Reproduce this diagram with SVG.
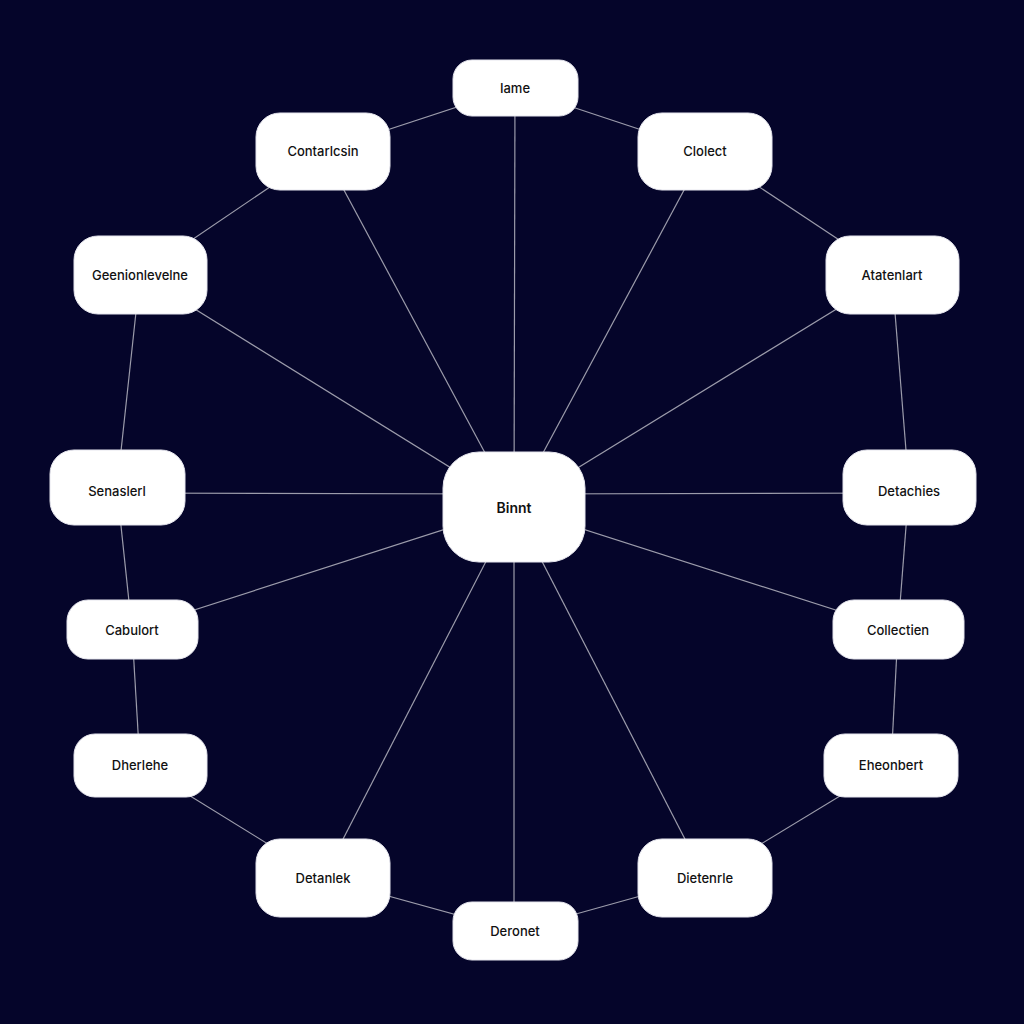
<svg xmlns="http://www.w3.org/2000/svg" width="1024" height="1024" viewBox="0 0 1024 1024">
<style>
.n rect{fill:#ffffff;stroke:#e6e6ee;stroke-width:1}
.n text{font-family:Inter,"Liberation Sans",sans-serif;font-size:13px;font-weight:500;fill:#111111;text-anchor:middle;dominant-baseline:central}
.c line{stroke:#9c9cab;stroke-width:1.2}
</style>
<rect width="1024" height="1024" fill="#05052a"/>
<g class="c">
<line x1="514" y1="507" x2="515" y2="88"/>
<line x1="514" y1="507" x2="323" y2="151"/>
<line x1="514" y1="507" x2="705" y2="151"/>
<line x1="514" y1="507" x2="140" y2="275"/>
<line x1="514" y1="507" x2="892" y2="275"/>
<line x1="514" y1="494" x2="117" y2="493"/>
<line x1="514" y1="494" x2="909" y2="493"/>
<line x1="514" y1="507" x2="132" y2="630"/>
<line x1="514" y1="507" x2="898" y2="630"/>
<line x1="514" y1="507" x2="323" y2="878"/>
<line x1="514" y1="507" x2="705" y2="878"/>
<line x1="514" y1="507" x2="514" y2="931"/>
<line x1="515" y1="88" x2="323" y2="151"/>
<line x1="515" y1="88" x2="705" y2="151"/>
<line x1="323" y1="151" x2="140" y2="275"/>
<line x1="705" y1="151" x2="892" y2="275"/>
<line x1="140" y1="275" x2="117" y2="488"/>
<line x1="892" y1="275" x2="909" y2="488"/>
<line x1="117" y1="488" x2="132" y2="630"/>
<line x1="909" y1="488" x2="898" y2="630"/>
<line x1="132" y1="630" x2="140" y2="765"/>
<line x1="898" y1="630" x2="891" y2="765"/>
<line x1="140" y1="765" x2="323" y2="878"/>
<line x1="891" y1="765" x2="705" y2="878"/>
<line x1="323" y1="878" x2="515" y2="931"/>
<line x1="705" y1="878" x2="515" y2="931"/>
</g>
<g id="n-iame" class="n"><rect x="453" y="60" width="125" height="56" rx="19"/><text x="515" y="88">Iame</text></g>
<g id="n-contarlcsin" class="n"><rect x="256" y="113" width="134" height="77" rx="24"/><text x="323" y="151">Contarlcsin</text></g>
<g id="n-clolect" class="n"><rect x="638" y="113" width="134" height="77" rx="24"/><text x="705" y="151">Clolect</text></g>
<g id="n-geenion" class="n"><rect x="74" y="236" width="133" height="78" rx="24"/><text x="140" y="275">Geenionlevelne</text></g>
<g id="n-atatenlart" class="n"><rect x="826" y="236" width="133" height="78" rx="24"/><text x="892" y="275">Atatenlart</text></g>
<g id="n-senaslerl" class="n"><rect x="50" y="450" width="135" height="75" rx="24"/><text x="117" y="491">Senaslerl</text></g>
<g id="n-detachies" class="n"><rect x="843" y="450" width="133" height="75" rx="24"/><text x="909" y="491">Detachies</text></g>
<g id="n-binnt" class="n"><rect x="443" y="452" width="142" height="110" rx="36"/><text x="514" y="507" style="font-size:14px;font-weight:600">Binnt</text></g>
<g id="n-cabulort" class="n"><rect x="67" y="600" width="131" height="59" rx="21"/><text x="132" y="630">Cabulort</text></g>
<g id="n-collectien" class="n"><rect x="833" y="600" width="131" height="59" rx="21"/><text x="898" y="630">Collectien</text></g>
<g id="n-dherlehe" class="n"><rect x="74" y="734" width="133" height="63" rx="21"/><text x="140" y="765">Dherlehe</text></g>
<g id="n-eheonbert" class="n"><rect x="824" y="734" width="134" height="63" rx="21"/><text x="891" y="765">Eheonbert</text></g>
<g id="n-detanlek" class="n"><rect x="256" y="839" width="134" height="78" rx="24"/><text x="323" y="878">Detanlek</text></g>
<g id="n-dietenrle" class="n"><rect x="638" y="839" width="134" height="78" rx="24"/><text x="705" y="878">Dietenrle</text></g>
<g id="n-deronet" class="n"><rect x="453" y="902" width="125" height="58" rx="19"/><text x="515" y="931">Deronet</text></g>
</svg>
